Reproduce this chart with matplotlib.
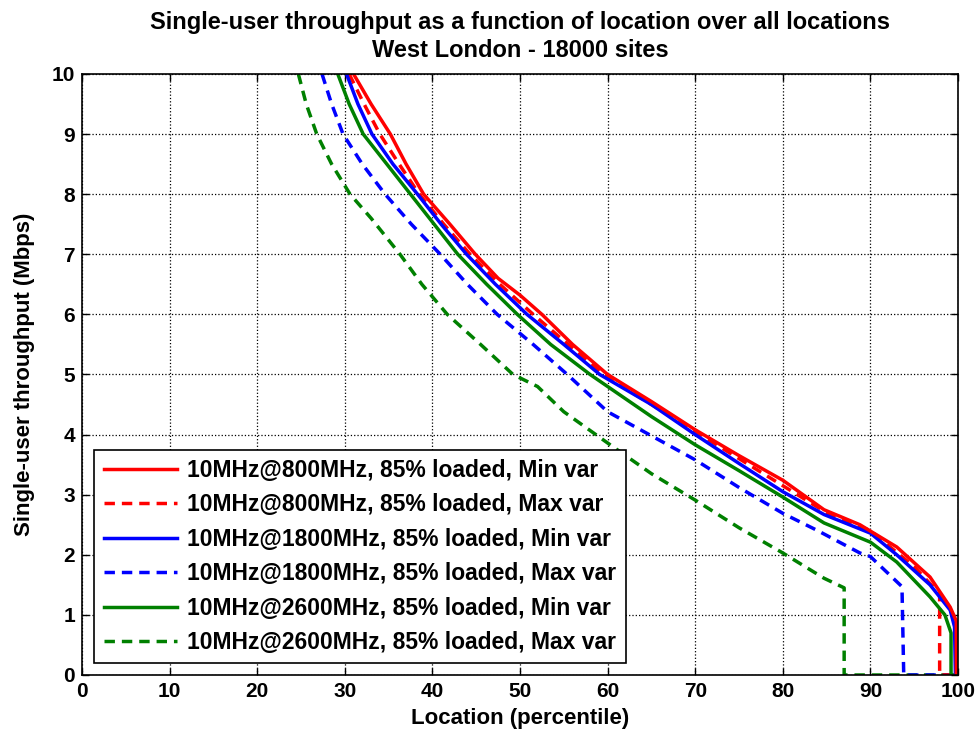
#!/usr/bin/env python3

# Single-user throughput vs location percentile, West London

import matplotlib
matplotlib.use('Agg')
import matplotlib.pyplot as plt

plt.rcParams['font.family'] = ['Liberation Sans', 'DejaVu Sans']
plt.rcParams['font.weight'] = 'bold'

# curves (percentile, Mbps)
x_800_min = [31.0, 33.0, 35.2, 37.0, 39.0, 42.0, 44.9, 47.5, 50.0, 52.5, 56.0, 60.0, 65.0, 70.0, 75.0, 80.0,
             84.7, 88.8, 93.0, 96.8, 99.1, 99.8, 99.8, 100.0]
y_800_min = [10.0, 9.5, 9.0, 8.5, 8.0, 7.5, 7.0, 6.6, 6.32, 6.0, 5.5, 5.0, 4.55, 4.08, 3.65, 3.24,
             2.75, 2.5, 2.13, 1.63, 1.13, 0.9, 0.0, 0.0]

x_800_max = [30.5, 32.2, 34.0, 36.2, 38.5, 41.3, 44.3, 47.7, 51.5, 55.5, 59.5, 65.0, 70.0, 75.0, 80.0,
             85.0, 90.0, 95.0, 97.9, 97.9, 100.0]
y_800_max = [10.0, 9.5, 9.0, 8.5, 8.0, 7.5, 7.0, 6.5, 6.0, 5.5, 5.0, 4.5, 4.05, 3.6, 3.15,
             2.7, 2.4, 1.8, 1.35, 0.0, 0.0]

x_1800_min = [30.2, 31.5, 33.1, 35.5, 38.3, 41.0, 43.9, 47.2, 50.8, 55.0, 59.1, 65.0, 70.0, 75.0, 80.0,
              84.7, 90.0, 93.0, 96.8, 99.1, 99.6, 99.7, 100.0]
y_1800_min = [10.0, 9.5, 9.0, 8.5, 8.0, 7.5, 7.0, 6.5, 6.0, 5.5, 5.0, 4.5, 4.0, 3.52, 3.05,
              2.67, 2.36, 2.0, 1.5, 1.08, 0.8, 0.0, 0.0]

x_1800_max = [27.4, 28.5, 29.8, 32.0, 34.6, 37.6, 40.9, 44.0, 47.4, 51.5, 55.4, 60.0, 65.0, 70.0, 75.0,
              80.0, 84.0, 88.8, 90.0, 93.6, 93.8, 100.0]
y_1800_max = [10.0, 9.5, 9.0, 8.5, 8.0, 7.5, 7.0, 6.5, 6.0, 5.5, 5.0, 4.38, 3.98, 3.58, 3.12,
              2.69, 2.4, 2.03, 1.97, 1.47, 0.0, 0.0]

x_2600_min = [29.2, 30.5, 32.1, 34.8, 37.5, 40.2, 42.9, 46.2, 49.7, 53.5, 58.0, 60.0, 65.0, 70.0, 75.0,
              80.0, 84.7, 90.0, 93.0, 96.8, 98.5, 99.2, 99.2, 100.0]
y_2600_min = [10.0, 9.5, 9.0, 8.5, 8.0, 7.5, 7.0, 6.5, 6.0, 5.5, 5.0, 4.8, 4.3, 3.83, 3.4,
              2.96, 2.53, 2.21, 1.88, 1.3, 1.0, 0.7, 0.0, 0.0]

x_2600_max = [24.7, 25.6, 26.8, 28.5, 30.6, 33.0, 36.3, 38.8, 41.7, 45.5, 49.2, 52.0, 55.0, 60.0, 65.0,
              70.0, 75.0, 80.0, 84.7, 87.0, 87.0, 100.0]
y_2600_max = [10.0, 9.5, 9.0, 8.5, 8.0, 7.6, 7.0, 6.5, 6.0, 5.5, 5.0, 4.8, 4.38, 3.86, 3.35,
              2.91, 2.45, 2.03, 1.61, 1.45, 0.0, 0.0]

labels = ['10MHz@800MHz, 85% loaded, Min var',
          '10MHz@800MHz, 85% loaded, Max var',
          '10MHz@1800MHz, 85% loaded, Min var',
          '10MHz@1800MHz, 85% loaded, Max var',
          '10MHz@2600MHz, 85% loaded, Min var',
          '10MHz@2600MHz, 85% loaded, Max var']

x_ticks = list(range(0, 101, 10))
y_ticks = list(range(0, 11))

if __name__ == '__main__':
    fig = plt.figure(figsize=(9.78, 7.42), dpi=100)
    ax = fig.add_axes([0.0838, 0.0903, 0.8958, 0.81])

    green = (0, 0.5, 0)
    dash = (3, 2)
    lw = 2.5

    series = [
        (x_800_min, y_800_min, 'red', None),
        (x_800_max, y_800_max, 'red', dash),
        (x_1800_min, y_1800_min, 'blue', None),
        (x_1800_max, y_1800_max, 'blue', dash),
        (x_2600_min, y_2600_min, green, None),
        (x_2600_max, y_2600_max, green, dash),
    ]
    # draw dashed ones first so solid lines sit on top, but keep legend order
    handles = [None] * 6
    order = [5, 3, 1, 4, 2, 0]
    for i in order:
        xs, ys, c, d = series[i]
        if d is None:
            h, = ax.plot(xs, ys, color=c, lw=lw, label=labels[i])
        else:
            h, = ax.plot(xs, ys, color=c, lw=lw, dashes=d, label=labels[i])
        handles[i] = h

    ax.set_xlim(0, 100)
    ax.set_ylim(0, 10)
    ax.set_xticks(x_ticks)
    ax.set_yticks(y_ticks)
    ax.grid(True, color='black', linestyle=':', linewidth=0.9)
    ax.tick_params(direction='in', top=True, right=True, labelsize=15, length=5, width=1, pad=5)
    for s in ax.spines.values():
        s.set_linewidth(1.2)

    ax.set_xlabel('Location (percentile)', fontsize=16, fontweight='bold', labelpad=5)
    ax.set_ylabel('Single-user throughput (Mbps)', fontsize=16, fontweight='bold', labelpad=12)
    ax.set_title('Single-user throughput as a function of location over all locations\nWest London - 18000 sites',
                 fontsize=17, fontweight='bold', linespacing=1.3, pad=12)

    leg = ax.legend(handles=handles, loc='lower left', bbox_to_anchor=(0.009, 0.012),
                    fontsize=16.5, handlelength=3.2, handletextpad=0.45, labelspacing=0.5,
                    borderpad=0.4, borderaxespad=0.2, fancybox=False, framealpha=1, edgecolor='black')
    leg.get_frame().set_linewidth(1.2)

    plt.savefig('out.png', dpi=100)
